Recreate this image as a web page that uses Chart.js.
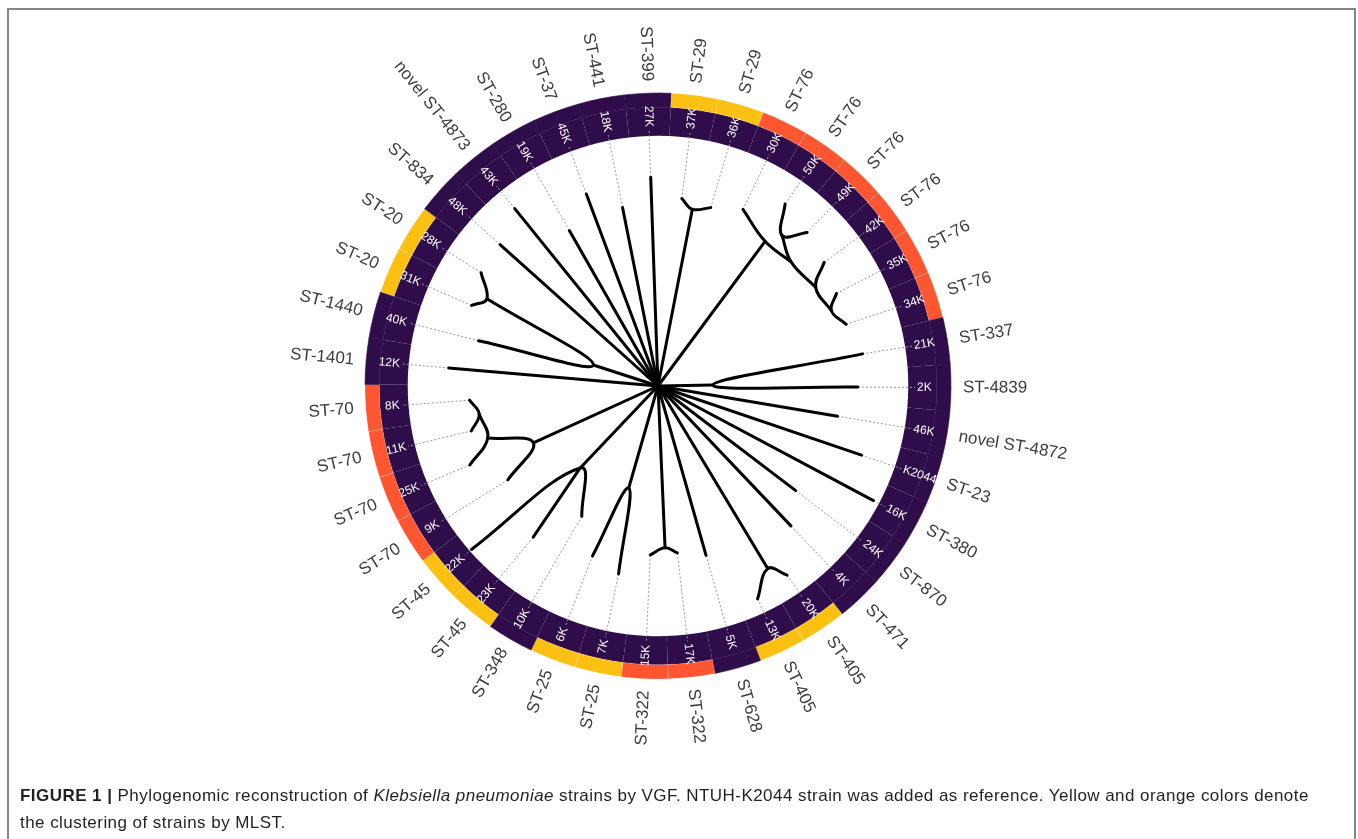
<!DOCTYPE html>
<html>
<head>
<meta charset="utf-8">
<title>Phylogenomic reconstruction</title>
<script src="https://cdn.jsdelivr.net/npm/chart.js"></script>
<style>
  body { margin: 0; background: #fff; font-family: "Liberation Sans", Arial, sans-serif; overflow: hidden; }
  #page { position: relative; width: 1358px; height: 839px; overflow: hidden; }
  #frame { position: absolute; left: 7px; top: 8px; width: 1345px; height: 900px; border: 2px solid #858585; }
  #ring { position: absolute; left: 358px; top: 86px; }
  #tree { position: absolute; left: 0; top: 0; }
  #caption { position: absolute; left: 20px; top: 782px; font-size: 17px; letter-spacing: 0.45px; line-height: 27px; color: #231f20; white-space: nowrap; }
</style>
</head>
<body>
<div id="page">
  <div id="frame"></div>
  <canvas id="ring" width="600" height="600"></canvas>
  <canvas id="tree" width="1358" height="839"></canvas>
  <div id="caption"><b>FIGURE 1 |</b> Phylogenomic reconstruction of <i>Klebsiella pneumoniae</i> strains by VGF. NTUH-K2044 strain was added as reference. Yellow and orange colors denote<br>the clustering of strains by MLST.</div>
</div>
<script>
// leaves, clockwise from the top
const strainIds = ['27K','37K','36K','30K','50K','49K','42K','35K','34K','21K','2K','46K','K2044','16K','24K','4K','20K','13K','5K','17K','15K','7K','6K','10K','23K','22K','9K','25K','11K','8K','12K','40K','31K','28K','48K','43K','19K','45K','18K'];
const stLabels = ['ST-399','ST-29','ST-29','ST-76','ST-76','ST-76','ST-76','ST-76','ST-76','ST-337','ST-4839','novel ST-4872','ST-23','ST-380','ST-870','ST-471','ST-405','ST-405','ST-628','ST-322','ST-322','ST-25','ST-25','ST-348','ST-45','ST-45','ST-70','ST-70','ST-70','ST-70','ST-1401','ST-1440','ST-20','ST-20','ST-834','novel ST-4873','ST-280','ST-37','ST-441'];
// 0 = no cluster, 1 = yellow, 2 = orange
const mlstGroup = [0,1,1,2,2,2,2,2,2,0,0,0,0,0,0,0,1,1,0,2,2,1,1,0,1,1,2,2,2,2,0,0,1,1,0,0,0,0,0];
// distance of each branch tip from the root
const tipRadius = [209,189,186,196,222,214,207,201,198,207,200,182,215,244,173,193,229,235,176,168,169,192,182,151,196,248,177,204,192,189,210,185,203,210,212,228,179,205,182];
// parent of each leaf: -1 = root, otherwise index into the node arrays
const leafParent = [-1,0,0,1,3,3,4,5,5,6,6,-1,-1,-1,-1,-1,7,7,-1,8,8,9,9,10,10,10,11,12,13,13,-1,14,15,15,-1,-1,-1,-1,-1];
// internal nodes
const nodeAngle  = [11, 36.5, 47, 39.5, 58, 66.5, 89, 149, 177.5, 196, 223.5, 245.5, 253, 261, 288, 297];
const nodeRadius = [180, 180, 182, 195, 186, 189, 55, 213, 162, 106, 113, 137, 178, 181, 68, 192];
const nodeParent = [-1, -1, 1, 2, 2, 4, -1, -1, -1, -1, -1, -1, 11, 12, -1, 14];

const firstLeafAngle = -2;
const step = 360 / strainIds.length;
const groupColors = ['#2e0d4a', '#fcc012', '#fd5631'];

function leafAngle(i) { return firstLeafAngle + i * step; }
function polar(angle, r) {
  const a = angle * Math.PI / 180;
  return { x: r * Math.sin(a), y: r * Math.cos(a) };
}
function leafPos(i) { return polar(leafAngle(i), tipRadius[i]); }
function nodePos(n) { return polar(nodeAngle[n], nodeRadius[n]); }

function branch(data, tension) {
  return { data: data, showLine: true, borderColor: '#000', borderWidth: 3, pointRadius: 0,
           tension: tension, borderCapStyle: 'round', borderJoinStyle: 'round', order: 0 };
}

// group children by parent
const children = {};
function addChild(parent, angle, pos) {
  (children[parent] = children[parent] || []).push({ angle: angle, pos: pos });
}
strainIds.forEach((id, i) => addChild(leafParent[i], leafAngle(i), leafPos(i)));
nodeAngle.forEach((a, n) => addChild(nodeParent[n], a, nodePos(n)));

const treeSets = [];
Object.keys(children).forEach(key => {
  const p = Number(key);
  const kids = children[key].sort((a, b) => a.angle - b.angle);
  if (p === -1) {
    kids.forEach(k => treeSets.push(branch([{ x: 0, y: 0 }, k.pos], 0)));
  } else {
    const np = nodePos(p);
    treeSets.push(branch([kids[0].pos, np, kids[kids.length - 1].pos], 0.4));
    kids.slice(1, -1).forEach(k => treeSets.push(branch([np, k.pos], 0)));
  }
});

// dotted guides from each tip to the ring
const guideSets = strainIds.map((id, i) => ({
  data: [leafPos(i), polar(leafAngle(i), 257)],
  showLine: true, borderColor: '#9a9a9a', borderWidth: 1, borderDash: [2, 2], pointRadius: 0, order: 1
}));

function drawRadial(ctx, sx, sy, ang, r, text, font, color) {
  const norm = ((ang % 360) + 360) % 360;
  const right = norm < 180;
  const p = polar(ang, r);
  ctx.save();
  ctx.translate(sx.getPixelForValue(p.x), sy.getPixelForValue(p.y));
  ctx.rotate((right ? norm - 90 : norm + 90) * Math.PI / 180);
  ctx.font = font;
  ctx.fillStyle = color;
  ctx.textAlign = right ? 'left' : 'right';
  ctx.textBaseline = 'middle';
  ctx.fillText(text, 0, 0);
  ctx.restore();
}

const labelPlugin = {
  id: 'leafLabels',
  afterDatasetsDraw(chart) {
    const ctx = chart.ctx;
    const sx = chart.scales.x, sy = chart.scales.y;
    strainIds.forEach((id, i) => {
      const ang = leafAngle(i);
      drawRadial(ctx, sx, sy, ang, 259, id, '12px "Liberation Sans", Arial, sans-serif', '#ffffff');
      drawRadial(ctx, sx, sy, ang, 305, stLabels[i], '17px "Liberation Sans", Arial, sans-serif', '#3d3d3d');
    });
  }
};

new Chart(document.getElementById('ring'), {
  type: 'doughnut',
  data: {
    labels: strainIds,
    datasets: [
      { data: strainIds.map(() => 1), backgroundColor: mlstGroup.map(g => groupColors[g]),
        borderColor: mlstGroup.map(g => g ? 'rgba(255,255,255,0.3)' : groupColors[0]), borderWidth: 0.6, weight: 12 },
      { data: strainIds.map(() => 1), backgroundColor: groupColors[0], borderWidth: 0, weight: 24 }
    ]
  },
  options: {
    responsive: false,
    animation: false,
    radius: 293,
    cutout: 256,
    rotation: firstLeafAngle - step / 2,
    layout: { padding: 0 },
    plugins: { legend: { display: false }, tooltip: { enabled: false } }
  }
});

new Chart(document.getElementById('tree'), {
  type: 'scatter',
  data: { datasets: treeSets.concat(guideSets) },
  options: {
    responsive: false,
    animation: false,
    layout: { padding: 0 },
    scales: {
      x: { type: 'linear', min: -658, max: 700, display: false },
      y: { type: 'linear', min: -453, max: 386, display: false }
    },
    plugins: { legend: { display: false }, tooltip: { enabled: false } }
  },
  plugins: [labelPlugin]
});
</script>
</body>
</html>
